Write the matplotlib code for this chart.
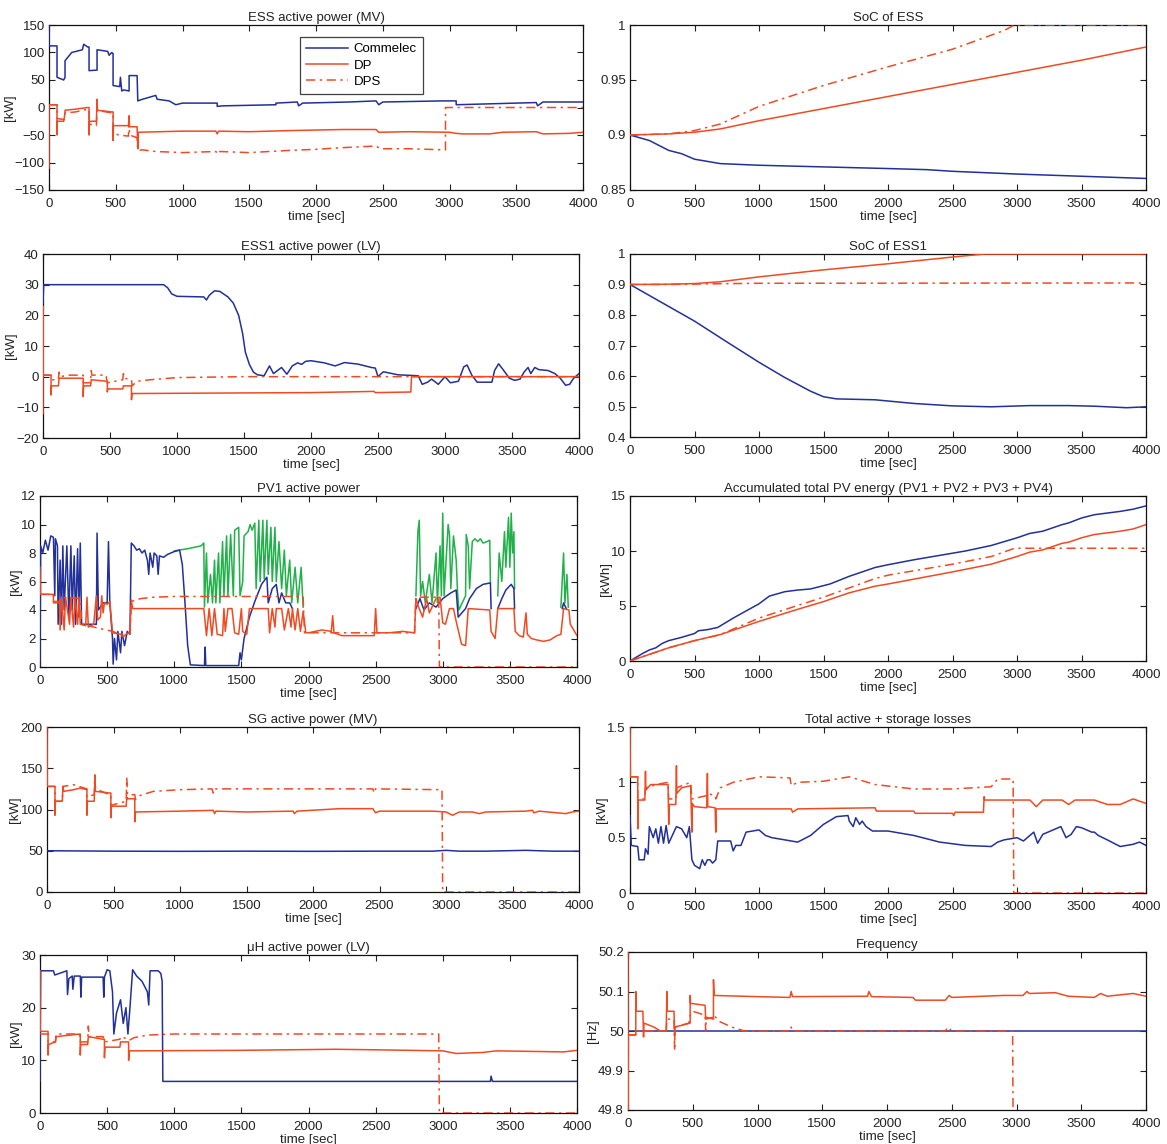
import numpy as np
import matplotlib
matplotlib.use("Agg")
import matplotlib.pyplot as plt
from matplotlib.ticker import FuncFormatter

plt.rcParams['font.family'] = ['Liberation Sans', 'DejaVu Sans']

BLUE = '#22309a'
ORANGE = '#f04a22'
GREEN = '#22b04a'
DASHDOT = (0, (6, 3, 1.5, 3))

SERIES_NAMES = ['Commelec', 'DP', 'DPS']
XTICKS = [0, 500, 1000, 1500, 2000, 2500, 3000, 3500, 4000]

# ---------------- ESS active power (MV) ----------------
ESS_COM = [(0,150),(0,112),(60,112),(60,55),(110,50),(120,55),(120,85),(170,100),(250,105),(260,115),
           (290,110),(300,110),(300,67),(360,68),(360,105),(440,102),(450,95),(470,100),(480,98),(480,40),
           (530,38),(535,55),(545,30),(560,32),(600,30),(600,58),(660,58),(665,12),(700,15),(800,22),
           (810,15),(900,12),(950,5),(1000,8),(1260,8),(1260,2),(1300,3),(1700,5),(1700,8),(1860,10),
           (1870,3),(1900,8),(2250,10),(2450,12),(2470,5),(2500,10),(2950,12),(3050,12),(3050,5),(3650,9),
           (3660,3),(3700,10),(4000,10)]
ESS_DP = [(0,-110),(0,5),(60,5),(60,-50),(62,-25),(110,-25),(120,-10),(120,-5),(200,-3),(290,0),(300,0),
          (300,-50),(303,-25),(355,-25),(360,15),(363,-5),(470,-8),(480,-8),(480,-60),(483,-33),(595,-33),
          (600,-15),(603,-35),(660,-35),(665,-75),(668,-45),(1000,-43),(1250,-43),(1260,-48),(1270,-43),
          (1500,-44),(1800,-42),(2200,-40),(2450,-40),(2470,-45),(2700,-44),(3000,-45),(3050,-47),(3100,-48),
          (3300,-48),(3400,-45),(3650,-44),(3700,-48),(3900,-47),(4000,-45)]
ESS_DPS = [(0,5),(60,5),(60,-20),(115,-22),(120,-10),(200,-8),(290,-3),(300,-3),(300,-30),(355,-33),
           (360,-5),(470,-10),(480,-10),(480,-45),(520,-50),(595,-52),(600,-20),(603,-50),(660,-55),
           (665,-78),(700,-77),(800,-80),(1000,-82),(1250,-80),(1265,-85),(1280,-80),(1500,-82),(1800,-78),
           (2000,-76),(2200,-73),(2450,-70),(2480,-75),(2700,-75),(2960,-77),(2970,-77),(2970,0),(4000,0)]

# ---------------- SoC of ESS ----------------
SOC_COM = [(0,0.9),(150,0.895),(300,0.886),(400,0.883),(500,0.878),(700,0.874),(1000,0.8725),(1500,0.871),
           (2000,0.8695),(2300,0.8685),(2500,0.867),(3000,0.8645),(3500,0.8625),(4000,0.8605)]
SOC_DP = [(0,0.9),(300,0.901),(500,0.9025),(700,0.9055),(1000,0.913),(1500,0.924),(2000,0.935),
          (2500,0.946),(3000,0.957),(3500,0.968),(4000,0.98)]
SOC_DPS = [(0,0.9),(300,0.901),(500,0.904),(700,0.91),(1000,0.926),(1500,0.945),(2000,0.962),
           (2500,0.978),(2900,0.995),(2980,1.0),(4000,1.0)]

# ---------------- ESS1 active power (LV) ----------------
ESS1_COM = [(0,24),(5,30),(900,30),(930,29),(960,27),(1000,26.2),(1200,26),(1220,25),(1240,26.5),(1280,28),
            (1320,27.8),(1380,26),(1420,24),(1460,20),(1490,14),(1510,8),(1540,4),(1570,1.5),(1600,0.6),
            (1650,0.3),(1690,3.5),(1720,1),(1780,3),(1820,0.8),(1860,3.5),(1900,4.5),(1930,4),(1960,5),
            (2000,5.2),(2100,4.5),(2180,3.5),(2250,4.6),(2350,4.1),(2450,3),(2480,2.8),(2500,0),(2540,1.6),
            (2650,0.6),(2800,0.3),(2830,-2.5),(2870,-1.8),(2900,-0.8),(2950,-2.5),(3000,0),(3040,-2),
            (3100,-1.5),(3140,3.2),(3165,3.8),(3200,0.5),(3240,-1.8),(3350,-1.8),(3370,2),(3400,4.2),
            (3430,2.5),(3480,-0.5),(3520,-1.2),(3560,-0.8),(3590,1.5),(3620,3),(3640,1),(3670,3),(3700,2.3),
            (3770,2),(3820,1),(3860,-0.5),(3900,-2.8),(3930,-2.5),(3960,-0.5),(4000,1)]
ESS1_DP = [(0,-12),(0,23),(2,0.5),(60,0.5),(60,-6),(63,-3),(115,-3),(120,-0.5),(300,-0.5),(300,-6.5),
           (303,-3),(355,-3),(360,-1),(475,-1.5),(480,-1.5),(480,-5),(483,-4),(595,-4),(600,-3),(660,-3),
           (660,-7.5),(665,-5.5),(1500,-5.3),(2000,-5.2),(2470,-4.8),(2480,-5.2),(2745,-5),(2750,0),(4000,0)]
ESS1_DPS = [(0,0.5),(60,0.5),(60,-1),(115,-1),(120,1.5),(125,0),(200,0.5),(300,0.5),(300,-2),(355,-2),
            (360,2),(365,0.5),(470,0.5),(480,-2),(595,-1),(600,1),(605,-0.5),(660,-1),(665,-3),(700,-1.5),
            (800,-1),(1000,-0.3),(1500,0),(2970,0),(4000,0)]

# ---------------- SoC of ESS1 ----------------
SOC1_COM = [(0,0.9),(250,0.84),(500,0.78),(750,0.712),(1000,0.645),(1200,0.595),(1400,0.55),(1500,0.532),
            (1600,0.525),(1900,0.522),(2200,0.51),(2500,0.502),(2800,0.499),(3100,0.503),(3400,0.503),
            (3600,0.501),(3850,0.496),(4000,0.499)]
SOC1_DP = [(0,0.9),(300,0.901),(500,0.903),(700,0.909),(1000,0.925),(1500,0.948),(2000,0.968),
           (2500,0.99),(2750,1.0),(4000,1.0)]
SOC1_DPS = [(0,0.9),(300,0.9),(600,0.902),(1000,0.904),(4000,0.905)]

# ---------------- PV1 active power ----------------
PV_AVAIL = [
    [(1000,8.15),(1100,8.3),(1200,8.5),(1220,8.7),(1225,4.2),(1240,8),(1250,4.5),(1270,6.5),(1285,4.5),
     (1300,7.5),(1310,4.5),(1330,8),(1340,4.5),(1360,8.8),(1370,5),(1390,9.2),(1400,5),(1420,9.3),
     (1440,5),(1450,9.6),(1480,9.8),(1490,5),(1510,6),(1520,9.2),(1550,9.5),(1565,10),(1580,9.6),
     (1600,10.1),(1610,5.5),(1630,10.3),(1640,6),(1660,10.3),(1670,6.2),(1690,10.3),(1700,6.5),
     (1720,9.8),(1730,6),(1750,9.8),(1760,6),(1780,8.8),(1800,5.5),(1820,8.2),(1835,5),(1860,7.5),
     (1875,4.5),(1900,7),(1920,4.5),(1945,7),(1960,4.2)],
    [(2800,5),(2815,9.5),(2825,10.3),(2835,5),(2850,6),(2870,4.5),(2900,6.5),(2920,4.5),(2950,8),
     (2960,4.5),(2980,8.5),(2990,5),(3000,10.8),(3010,5),(3040,10),(3050,9.3),(3060,5.5),(3080,9.2),
     (3100,7.5),(3110,5.3),(3120,4),(3170,5),(3175,9.3),(3190,8.5),(3200,5.5),(3220,8.8),(3240,9),
     (3260,8.8),(3280,9),(3300,8.7),(3330,8.8),(3350,8.9),(3355,5.9)],
    [(3410,5),(3420,8),(3440,6),(3460,9.5),(3470,7),(3490,10.5),(3500,7),(3510,10.8),(3520,8),
     (3530,9.5),(3535,5.5)],
    [(3880,4.2),(3900,8),(3910,4.5),(3925,6.5),(3935,4.2)],
]
PV_COM = [
    [(0,0),(5,8.5),(20,8),(40,8.9),(60,8.2),(80,9.2),(100,9.1),(110,5),(115,9),(130,8.5),(135,3),
     (150,7.5),(160,3),(170,8.5),(180,4),(200,8.5),(215,3.5),(230,8.5),(240,4),(255,7.8),(265,3),
     (280,8.3),(290,3.5),(300,8.7),(310,3),(420,3),(425,9.4),(435,4),(470,4.5),(500,4.5),(510,8.8),
     (520,4.5),(540,2),(545,0.2),(555,2),(570,0.5),(580,2.5),(600,1),(610,2.5),(630,1.5),(650,2.5),
     (670,2.3),(680,8.7),(700,8.5),(720,8.2),(740,8.3),(760,8.0),(780,8.2),(800,7.5),(810,6.5),
     (820,8),(840,7),(850,8),(870,7.8),(880,6.5),(890,7.8),(920,7.7),(950,7.9),(1000,8.1),(1040,8.2),
     (1060,7.2),(1080,4.5),(1100,1.5),(1120,0.15),(1225,0.1),(1230,1.4),(1235,0.1),(1480,0.1),
     (1490,1),(1500,0.5),(1520,2),(1560,3.5),(1600,4.6),(1650,5.8),(1690,6.3),(1700,4.5),(1730,5.5),
     (1760,5.8),(1780,4.5),(1800,5.2),(1830,4.5),(1860,4.5),(1880,4.1)],
    [(2800,4.1),(2830,4.8),(2860,4),(2900,4.5),(2950,4.2),(3000,4.8),(3030,5),(3060,5.2),(3100,5.4),
     (3115,3.5),(3170,4.1),(3200,4.8),(3250,5.5),(3300,5.8),(3355,5.9),(3360,4.1)],
    [(3410,4.1),(3440,4.8),(3470,5.4),(3510,5.8),(3530,5.5),(3535,4.1)],
    [(3890,4.1),(3900,4.5),(3920,4.1)],
]
PV_DP = [(0,7),(3,5.1),(100,5.1),(100,4.5),(145,4.5),(150,2.6),(160,4.9),(180,2.6),(190,4.9),(220,3),
         (230,4.9),(250,2.8),(260,4.9),(280,3),(290,4.9),(300,3),(340,2.9),(350,4.9),(360,2.8),(400,3),
         (420,5),(430,3.3),(450,3.5),(460,5),(470,3.8),(480,4.5),(500,4.4),(520,4.6),(540,2.4),(600,2.3),
         (620,2.1),(640,2.3),(670,2.4),(680,4.7),(690,4.1),(1220,4.1),(1240,2.2),(1260,4.1),(1280,2.2),
         (1300,4.1),(1320,2.3),(1360,2.2),(1370,4.1),(1380,2.5),(1400,4.1),(1430,4.1),(1450,2.4),
         (1480,2.3),(1500,4.1),(1510,2.5),(1540,2.3),(1560,4.1),(1700,4.1),(1710,2.4),(1730,4.1),
         (1750,2.8),(1760,4.1),(1800,4.1),(1820,2.6),(1850,4.1),(1870,2.8),(1880,4.1),(1900,2.6),
         (1920,4.1),(1940,2.5),(1960,3.9),(1980,2.4),(2000,2.4),(2100,2.6),(2170,2.5),(2180,3.6),
         (2190,2.4),(2250,2.2),(2400,2.2),(2490,2.2),(2500,4.1),(2510,2.4),(2600,2.4),(2700,2.5),
         (2790,2.4),(2800,4.8),(2820,4.2),(2850,3.5),(2880,4.8),(2900,3.8),(2950,4.8),(2980,4.9),
         (3000,3.1),(3020,3),(3050,4.1),(3080,4.1),(3100,3.2),(3140,1.6),(3170,1.5),(3190,4.1),
         (3350,4.0),(3360,2.5),(3390,2),(3410,4.1),(3530,4.1),(3540,2.5),(3570,2.2),(3600,2.1),
         (3620,3.8),(3630,2.3),(3660,2),(3700,1.9),(3750,1.8),(3800,1.9),(3850,2.2),(3880,2.3),
         (3900,4.1),(3940,4.0),(3950,3),(4000,2.2)]
PV_DPS = [(0,5.1),(100,5.1),(100,4.6),(150,4.6),(160,4.9),(300,4.8),(310,3),(540,2.5),(600,2.3),
          (670,2.4),(680,4.6),(750,4.8),(850,4.9),(1000,4.95),(1960,4.95),(1970,2.4),(2790,2.4),
          (2800,4.9),(2970,4.9),(2975,0),(4000,0)]

# ---------------- Accumulated total PV energy ----------------
EN_COM = [(0,0),(100,0.7),(150,1.0),(200,1.2),(250,1.6),(300,1.85),(400,2.15),(500,2.5),(530,2.75),
          (600,2.85),(680,3.05),(800,3.9),(1000,5.2),(1080,5.9),(1200,6.3),(1300,6.45),(1400,6.55),
          (1500,6.85),(1550,7.0),(1700,7.7),(1900,8.5),(2000,8.75),(2200,9.2),(2400,9.6),(2600,10.0),
          (2800,10.5),(3000,11.2),(3100,11.6),(3200,11.8),(3350,12.4),(3400,12.55),(3500,13.0),
          (3600,13.3),(3800,13.6),(3900,13.8),(4000,14.1)]
EN_DP = [(0,0),(300,1.2),(500,1.85),(700,2.4),(1000,3.6),(1300,4.7),(1500,5.4),(1700,6.2),(1900,6.8),
         (2000,7.0),(2500,8.1),(2800,8.8),(3000,9.5),(3100,9.9),(3200,10.1),(3350,10.7),(3400,10.8),
         (3500,11.2),(3600,11.5),(3800,11.8),(3900,12.0),(4000,12.4)]
EN_DPS = [(0,0),(300,1.2),(500,1.85),(700,2.4),(1000,3.9),(1300,5.05),(1500,5.8),(1900,7.5),(2000,7.8),
          (2500,8.8),(2800,9.5),(2970,10.2),(3000,10.25),(4000,10.25)]

# ---------------- SG active power (MV) ----------------
SG_COM = [(0,50),(500,49.5),(1000,49.3),(1500,49.5),(2000,49.3),(2500,49.5),(2900,49.5),(3000,50.5),
          (3100,49.5),(3300,49.5),(3600,50.5),(3800,49.5),(4000,49.5)]
SG_DP = [(0,200),(2,128),(60,128),(60,93),(63,110),(115,110),(120,128),(125,122),(200,124),(250,126),
         (300,124),(300,93),(303,110),(355,110),(360,140),(363,122),(470,120),(480,120),(480,90),(483,104),
         (595,104),(600,115),(605,113),(660,113),(660,85),(665,97),(1000,98),(1250,99),(1260,95),(1270,98),
         (1500,97),(1850,98),(1860,95),(1880,98),(2200,101),(2450,101),(2470,96),(2500,98),(2900,98),
         (3000,97),(3050,93),(3100,97),(3200,97),(3250,95),(3300,97),(3600,98),(3650,99),(3660,96),
         (3700,98),(3900,95),(3950,97),(4000,98)]
SG_DPS = [(0,128),(60,128),(60,110),(115,110),(120,128),(200,130),(300,125),(300,115),(355,118),(360,142),
          (365,125),(470,118),(480,118),(480,105),(595,110),(600,138),(605,118),(660,118),(665,112),
          (700,117),(800,122),(1000,124),(1240,125),(1250,120),(1260,125),(2000,125),(2450,125),(2460,120),
          (2470,125),(2970,124),(2975,0),(4000,0)]

# ---------------- Total active + storage losses ----------------
LOSS_COM = [(0,0.7),(10,0.43),(60,0.42),(70,0.3),(110,0.3),(120,0.4),(140,0.35),(150,0.6),(180,0.5),
            (200,0.58),(220,0.45),(240,0.6),(260,0.45),(280,0.61),(300,0.45),(320,0.5),(360,0.6),(400,0.58),
            (440,0.5),(460,0.6),(480,0.3),(500,0.25),(540,0.22),(560,0.3),(580,0.25),(600,0.3),(620,0.3),
            (640,0.27),(665,0.3),(680,0.47),(780,0.47),(800,0.38),(820,0.43),(860,0.43),(900,0.55),
            (1000,0.57),(1050,0.52),(1100,0.5),(1300,0.46),(1400,0.52),(1500,0.62),(1600,0.69),(1690,0.7),
            (1700,0.65),(1730,0.6),(1750,0.68),(1780,0.62),(1800,0.65),(1830,0.6),(1880,0.56),(2000,0.56),
            (2200,0.52),(2400,0.46),(2600,0.43),(2800,0.42),(2850,0.46),(2900,0.48),(3000,0.5),(3050,0.47),
            (3100,0.52),(3130,0.55),(3160,0.45),(3200,0.53),(3300,0.58),(3340,0.6),(3380,0.5),(3420,0.53),
            (3460,0.6),(3500,0.59),(3580,0.55),(3600,0.55),(3630,0.52),(3700,0.48),(3800,0.42),(3900,0.44),
            (3950,0.46),(4000,0.43)]
LOSS_DP = [(0,1.5),(3,1.05),(60,1.05),(60,0.58),(63,0.84),(115,0.84),(120,1.1),(123,0.93),(160,0.98),
           (295,0.98),(300,0.62),(303,0.8),(355,0.8),(360,1.15),(363,0.9),(400,0.95),(470,0.97),(480,0.55),
           (483,0.81),(500,0.78),(595,0.77),(600,1.08),(603,0.78),(660,0.77),(665,0.55),(668,0.76),
           (1250,0.76),(1260,0.73),(1300,0.76),(1900,0.77),(1910,0.74),(2200,0.74),(2210,0.72),(2500,0.72),
           (2510,0.7),(2520,0.73),(2740,0.73),(2745,0.87),(2750,0.84),(3100,0.84),(3150,0.78),(3200,0.84),
           (3350,0.84),(3400,0.8),(3450,0.84),(3600,0.84),(3650,0.82),(3700,0.8),(3800,0.8),(3900,0.85),
           (4000,0.81)]
LOSS_DPS = [(0,1.05),(60,1.05),(60,0.85),(115,0.85),(120,0.95),(200,0.98),(295,1.0),(300,0.85),(355,0.85),
            (360,0.95),(470,1.0),(480,0.85),(595,0.88),(600,0.9),(660,0.88),(665,0.85),(700,0.95),
            (800,1.0),(1000,1.05),(1240,1.04),(1250,0.97),(1300,1.0),(1500,1.01),(1700,1.05),(1900,0.98),
            (2200,0.94),(2500,0.94),(2800,0.96),(2850,1.03),(2970,1.03),(2975,0),(4000,0)]

# ---------------- uH active power (LV) ----------------
UH_COM = [(0,6),(5,27),(100,27),(110,26.2),(200,27),(205,22.5),(215,25.5),(240,26),(245,23.5),(255,26),
          (300,26),(305,22),(310,25.8),(470,25.8),(475,22),(480,25.8),(500,27.2),(520,27),(540,23),
          (550,15),(570,19),(600,21.5),(620,17),(640,20),(655,15),(670,20),(690,27.2),(720,26),(760,25),
          (800,23),(810,20.5),(820,27),(880,27),(900,26.5),(910,25),(915,6),(3355,6),(3360,7),(3370,6),
          (4000,6)]
UH_DP = [(0,27),(2,15.5),(60,15.5),(60,11),(63,13),(115,13.5),(120,14.5),(300,15),(300,11),(303,13),
         (355,13),(360,14.5),(470,14),(480,14),(480,10.5),(483,12.5),(595,12.5),(600,13.5),(660,13.5),
         (660,10),(665,11.8),(1500,11.9),(2200,12.1),(2500,12.0),(3000,11.8),(3100,11.3),(3300,11.5),
         (3400,11.8),(3900,11.6),(4000,11.9)]
UH_DPS = [(0,15),(60,15),(60,13.5),(115,13.5),(120,15),(295,15),(300,13.5),(355,13.5),(360,16.5),
          (365,14.5),(470,14.5),(480,13.5),(595,14),(600,14.5),(660,14),(665,13.8),(700,14.3),(800,14.8),
          (1000,15),(2970,15),(2975,0),(4000,0)]

# ---------------- Frequency ----------------
FR_COM = [(0,50),(4000,50)]
FR_DP = [(0,50.2),(1,49.8),(3,49.99),(60,49.99),(60,50.1),(63,50.05),(115,50.05),(120,49.985),(123,50.02),
         (200,50.01),(250,50.0),(295,50.0),(300,50.1),(303,50.05),(355,50.05),(360,49.99),(363,50.01),
         (480,50.02),(480,50.09),(483,50.07),(595,50.065),(600,50.03),(660,50.035),(660,50.13),
         (665,50.09),(1000,50.087),(1250,50.085),(1260,50.1),(1270,50.087),(1850,50.088),(1860,50.1),
         (1880,50.087),(2200,50.085),(2220,50.078),(2450,50.078),(2480,50.09),(2500,50.085),(2900,50.09),
         (3050,50.09),(3080,50.1),(3100,50.095),(3300,50.097),(3400,50.088),(3600,50.085),(3650,50.095),
         (3700,50.088),(3900,50.095),(4000,50.088)]
FR_DPS = [(0,49.99),(60,49.99),(60,50.0),(295,50.0),(300,50.03),(355,50.03),(360,49.95),(363,50.01),
          (470,50.02),(480,50.04),(500,50.05),(595,50.04),(600,50.0),(603,50.035),(660,50.03),(665,50.04),
          (700,50.025),(800,50.01),(900,50.0),(1250,50.0),(1260,50.01),(1270,50.0),(2450,50.0),
          (2470,50.01),(2500,50.0),(2970,50.0),(2975,49.7)]

W, H = 1167, 1144
fig = plt.figure(figsize=(W / 100, H / 100), dpi=100)


def rect(x0, x1, y0, y1):
    return [x0 / W, 1 - y1 / H, (x1 - x0) / W, (y1 - y0) / H]


def xy(pairs):
    a = np.array(pairs, dtype=float)
    return a[:, 0], a[:, 1]


def line(ax, pairs, color, ls='-', label=None, lw=1.1):
    x, y = xy(pairs)
    ax.plot(x, y, color=color, ls=ls, lw=lw, label=label, zorder=3)


def gfmt(v, p):
    return ('%g' % round(v, 4)).replace('-', '\u2212')


def setup(ax, title, ylim, yticks, ylabel=None, fmt=None):
    ax.set_xlim(0, 4000)
    ax.set_ylim(*ylim)
    ax.set_xticks(XTICKS)
    ax.set_yticks(yticks)
    if fmt is not None:
        ax.yaxis.set_major_formatter(FuncFormatter(gfmt))
    ax.tick_params(direction='in', top=True, right=True, length=4, width=0.8,
                   labelsize=9.5, colors='#222222')
    ax.tick_params(axis='x', pad=5.5)
    ax.tick_params(axis='y', pad=3)
    for s in ax.spines.values():
        s.set_linewidth(0.9)
        s.set_color('#111111')
        s.set_zorder(2.5)
    ax.set_title(title, fontsize=9.5, pad=3, color='#222222')
    ax.set_xlabel('time [sec]', fontsize=9.5, labelpad=1, color='#222222')
    if ylabel:
        ax.set_ylabel(ylabel, fontsize=9.5, labelpad=-0.5, color='#222222')


def three(ax, com, dp, dps):
    line(ax, com, BLUE, label=SERIES_NAMES[0])
    line(ax, dp, ORANGE, label=SERIES_NAMES[1])
    line(ax, dps, ORANGE, ls=DASHDOT, label=SERIES_NAMES[2])


# Row 1
ax = fig.add_axes(rect(49, 583, 25, 190))
three(ax, ESS_COM, ESS_DP, ESS_DPS)
setup(ax, 'ESS active power (MV)', (-150, 150), range(-150, 151, 50), '[kW]')
leg = ax.legend(loc='upper left', bbox_to_anchor=(0.457, 0.97), fontsize=9.5, frameon=True,
                fancybox=False, edgecolor='#111111', borderpad=0.5, handlelength=3.2,
                labelspacing=0.3, handletextpad=0.4)
leg.get_frame().set_linewidth(0.9)
leg.set_zorder(5)

ax = fig.add_axes(rect(630, 1146, 25, 190))
three(ax, SOC_COM, SOC_DP, SOC_DPS)
setup(ax, 'SoC of ESS', (0.85, 1.0), [0.85, 0.9, 0.95, 1.0], None, fmt=True)

# Row 2
ax = fig.add_axes(rect(43, 579, 254, 438))
three(ax, ESS1_COM, ESS1_DP, ESS1_DPS)
setup(ax, 'ESS1 active power (LV)', (-20, 40), range(-20, 41, 10), '[kW]')

ax = fig.add_axes(rect(630, 1146, 254, 437))
three(ax, SOC1_COM, SOC1_DP, SOC1_DPS)
setup(ax, 'SoC of ESS1', (0.4, 1.0), [0.4, 0.5, 0.6, 0.7, 0.8, 0.9, 1.0], None, fmt=True)

# Row 3
ax = fig.add_axes(rect(40, 577, 496, 667))
for seg in PV_AVAIL:
    line(ax, seg, GREEN)
for seg in PV_COM:
    line(ax, seg, BLUE)
line(ax, PV_DP, ORANGE)
line(ax, PV_DPS, ORANGE, ls=DASHDOT)
setup(ax, 'PV1 active power', (0, 12), range(0, 13, 2), '[kW]')

ax = fig.add_axes(rect(630, 1146, 496, 661))
three(ax, EN_COM, EN_DP, EN_DPS)
setup(ax, 'Accumulated total PV energy (PV1 + PV2 + PV3 + PV4)', (0, 15), [0, 5, 10, 15], '[kWh]')

# Row 4
ax = fig.add_axes(rect(47, 579, 727, 892))
three(ax, SG_COM, SG_DP, SG_DPS)
setup(ax, 'SG active power (MV)', (0, 200), range(0, 201, 50), '[kW]')

ax = fig.add_axes(rect(630, 1146, 727, 893))
three(ax, LOSS_COM, LOSS_DP, LOSS_DPS)
setup(ax, 'Total active + storage losses', (0, 1.5), [0, 0.5, 1.0, 1.5], '[kW]', fmt=True)

# Row 5
ax = fig.add_axes(rect(40, 577, 955, 1113))
three(ax, UH_COM, UH_DP, UH_DPS)
setup(ax, '\u03bcH active power (LV)', (0, 30), range(0, 31, 10), '[kW]')

ax = fig.add_axes(rect(628, 1146, 952, 1110))
three(ax, FR_COM, FR_DP, FR_DPS)
setup(ax, 'Frequency', (49.8, 50.2), [49.8, 49.9, 50.0, 50.1, 50.2], '[Hz]', fmt=True)

fig.savefig('out.png', dpi=100)
